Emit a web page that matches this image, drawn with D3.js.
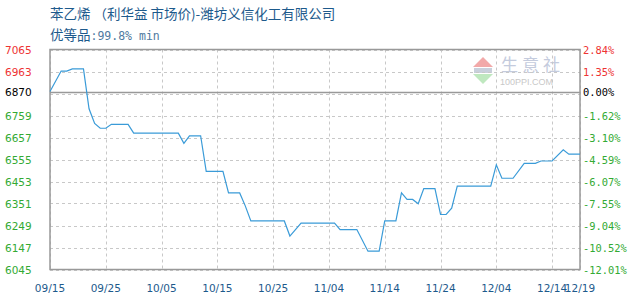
<!DOCTYPE html>
<html><head><meta charset="utf-8">
<script src="https://cdn.jsdelivr.net/npm/d3@7"></script>
<style>
html,body{margin:0;padding:0;background:#fff;}
svg{display:block;}
</style></head>
<body>
<svg id="chart" width="630" height="300"></svg>
<script>
const title = "苯乙烯 （利华益 市场价)-潍坊义信化工有限公司";
const subtitleCJK = "优等品";
const subtitleRest = ":99.8% min";
const dates = ["09/15","09/17","09/18","09/19","09/21","09/22","09/23","09/24","09/25","09/26","09/29","09/30","10/08","10/09","10/10","10/12","10/13","10/16","10/17","10/19","10/20","10/21","10/27","10/28","10/30","11/05","11/06","11/09","11/11","11/13","11/14","11/16","11/17","11/18","11/19","11/20","11/21","11/23","11/24","11/25","11/26","11/27","12/03","12/04","12/05","12/07","12/09","12/11","12/12","12/14","12/16","12/17","12/19"];
const prices = [6870,6965,6965,6975,6975,6790,6722,6700,6700,6718,6718,6677,6677,6630,6665,6665,6500,6500,6400,6400,6340,6270,6270,6200,6260,6260,6230,6230,6130,6130,6270,6270,6400,6370,6370,6350,6420,6420,6300,6300,6329,6432,6432,6530,6468,6468,6537,6537,6548,6548,6600,6580,6580];
const baseValue = 6870;
const leftTicks = [7065,6963,6870,6759,6657,6555,6453,6351,6249,6147,6045];
const gridValues = [7065,6963,6861,6759,6657,6555,6453,6351,6249,6147,6045];
const rightTicks = ["2.84%","1.35%","0.00%","-1.62%","-3.10%","-4.59%","-6.07%","-7.55%","-9.04%","-10.52%","-12.01%"];
const xTickLabels = ["09/15","09/25","10/05","10/15","10/25","11/04","11/14","11/24","12/04","12/14","12/19"];
const year = 2023;

const parse = s => { const [m,d] = s.split("/").map(Number); return new Date(Date.UTC(year, m-1, d)); };
const svg = d3.select("#chart");
const L = 50, R = 580, T = 49.5, B = 269.5;
const x = d3.scaleUtc().domain([parse("09/15"), parse("12/19")]).range([L, R]);
const y = d3.scaleLinear().domain([6045, 7065]).range([B, T]);

// title
svg.append("text").attr("x", 50).attr("y", 19)
  .attr("font-family", "'Noto Sans CJK SC', sans-serif").attr("font-size", 13.5)
  .attr("fill", "#1d5a8c").text(title);
const sub = svg.append("text").attr("x", 50).attr("y", 40).attr("fill", "#1d5a8c");
sub.append("tspan").attr("font-family", "'Noto Sans CJK SC', sans-serif").attr("font-size", 13.5).text(subtitleCJK);
sub.append("tspan").attr("font-family", "'DejaVu Sans Mono', monospace").attr("font-size", 11.5).attr("fill", "#4f7aa0").text(subtitleRest);

// watermark
const wm = svg.append("g");
wm.append("path").attr("d", "M473,67 L483,57 L493,67 Z").attr("fill", "#f2a9a9");
wm.append("rect").attr("x", 474).attr("y", 68).attr("width", 18).attr("height", 5).attr("fill", "#c9d0dc");
wm.append("path").attr("d", "M473,74 L493,74 L483,84 Z").attr("fill", "#bfe8bf");
wm.append("text").attr("x", 501).attr("y", 71).attr("font-family", "'Noto Sans CJK SC', sans-serif")
  .attr("font-size", 17).attr("letter-spacing", 4).attr("fill", "#c4cbdd").text("生意社");
wm.append("text").attr("x", 500).attr("y", 85).attr("font-family", "'Liberation Sans', sans-serif")
  .attr("font-size", 9).attr("fill", "#c8c8c8").text("100PPI.COM");

// grid
const grid = svg.append("g").attr("stroke", "#c8c8c8").attr("stroke-dasharray", "3,3").attr("stroke-width", 1);
gridValues.forEach(v => {
  const yy = Math.round(y(v)) + 0.5;
  grid.append("line").attr("x1", L).attr("x2", R).attr("y1", yy).attr("y2", yy);
});
xTickLabels.forEach(s => {
  const xx = Math.round(x(parse(s))) + 0.5;
  grid.append("line").attr("x1", xx).attr("x2", xx).attr("y1", T).attr("y2", B);
});

// zero line
const zy = Math.round(y(baseValue)) + 0.5;
svg.append("line").attr("x1", L).attr("x2", R).attr("y1", zy).attr("y2", zy).attr("stroke", "#999").attr("stroke-width", 1.5);

// frame
svg.append("rect").attr("x", L).attr("y", T).attr("width", R - L).attr("height", B - T)
  .attr("fill", "none").attr("stroke", "#999").attr("stroke-width", 1.5);

// line
const data = dates.map((d, i) => ({ d: parse(d), v: prices[i] }));
svg.append("path").datum(data)
  .attr("d", d3.line().x(p => x(p.d)).y(p => y(p.v)))
  .attr("fill", "none").attr("stroke", "#3a9bd8").attr("stroke-width", 1.2);

// left and right labels
const colorFor = v => v > baseValue ? "#ee3333" : (v < baseValue ? "#33aa33" : "#000");
leftTicks.forEach((v, i) => {
  const yy = i === 2 ? y(baseValue) : y(gridValues[i]);
  svg.append("text").attr("x", 5).attr("y", yy + 4.5)
    .attr("font-family", "'DejaVu Sans', sans-serif").attr("font-size", 10.5)
    .attr("fill", colorFor(v)).text(v);
  svg.append("text").attr("x", 583).attr("y", yy + 4.5)
    .attr("font-family", "'DejaVu Sans Mono', monospace").attr("font-size", 10.4)
    .attr("fill", colorFor(v)).text(rightTicks[i]);
});

// x labels
xTickLabels.forEach(s => {
  svg.append("text").attr("x", x(parse(s))).attr("y", 292).attr("text-anchor", "middle")
    .attr("font-family", "'DejaVu Sans', sans-serif").attr("font-size", 10.5)
    .attr("fill", "#1d5a8c").text(s);
});
</script>
</body></html>
